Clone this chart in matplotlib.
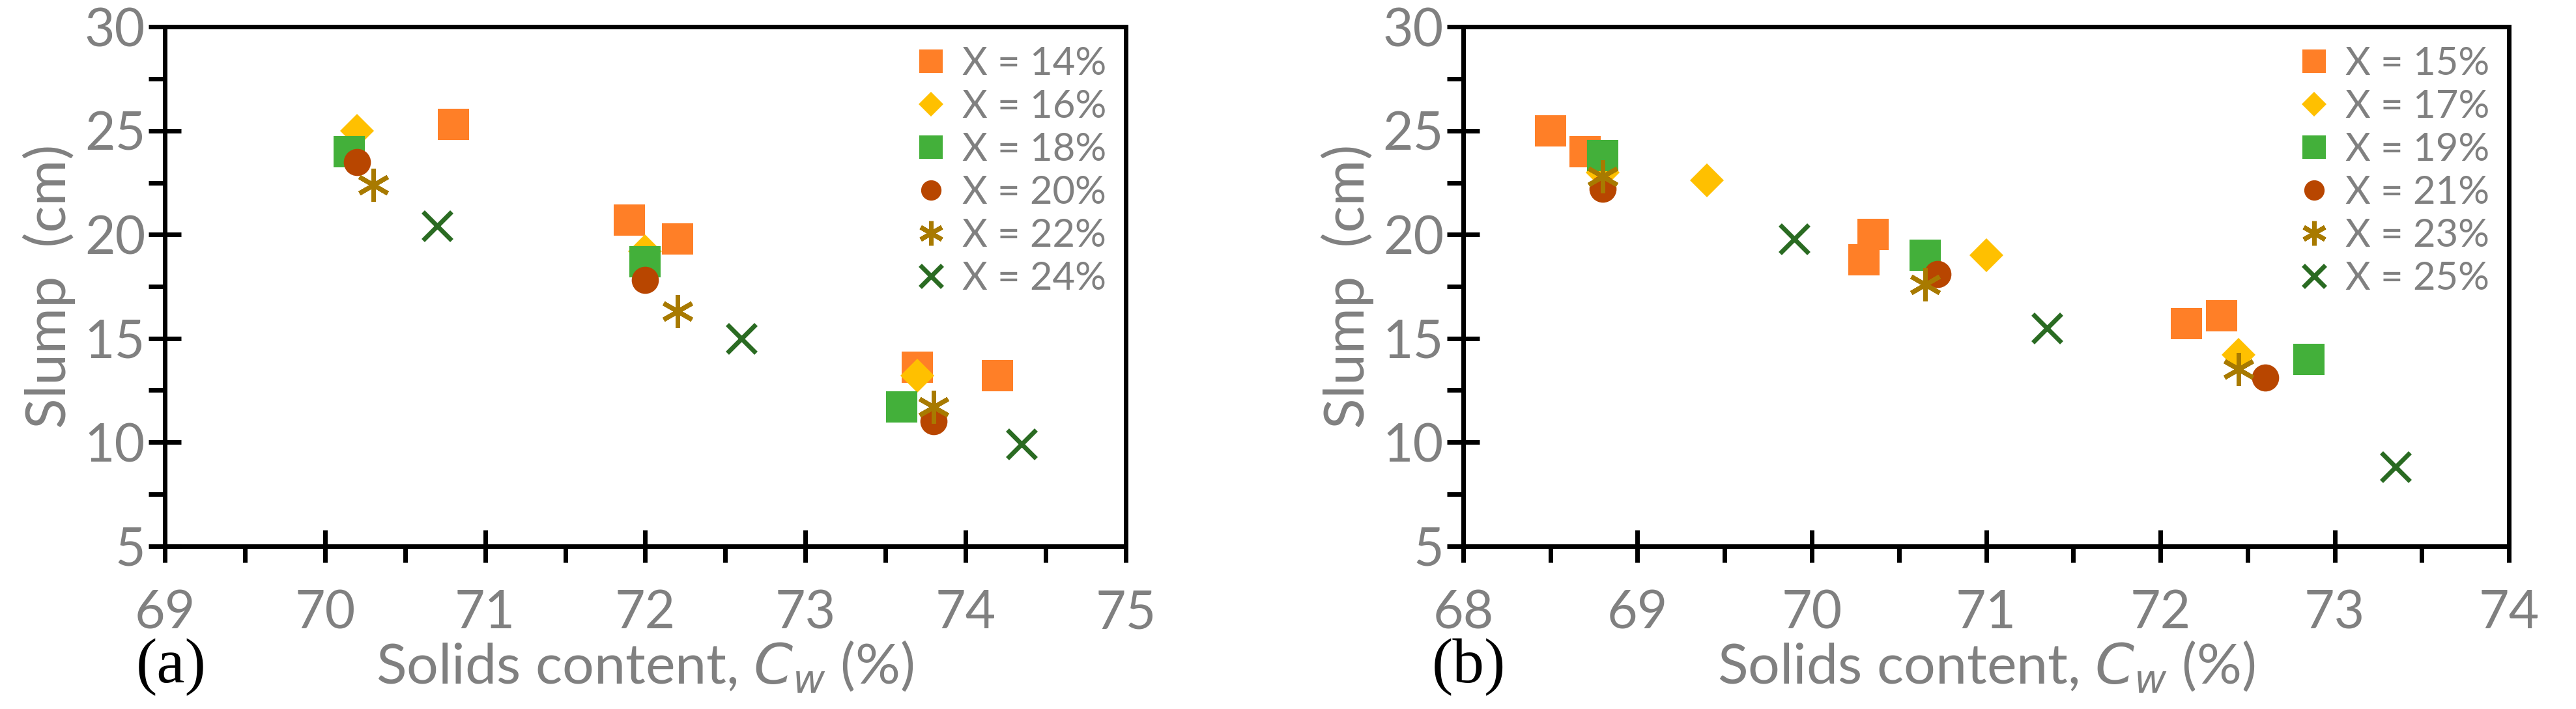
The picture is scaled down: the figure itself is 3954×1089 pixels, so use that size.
import matplotlib.pyplot as plt
from matplotlib.ticker import MultipleLocator

plt.rcParams['font.family'] = ['Lato', 'DejaVu Sans']

GRAY = '#808080'
colors = ['#FF7F27', '#FFC000', '#43B03A', '#B84600', '#A87A00', '#2A6B22']
markers = ['s', 'D', 's', 'o', (6, 2, 0), 'x']
sizes = [34, 26, 34, 30, 36, 32]

# panel (a)
labels_a = ['X = 14%', 'X = 16%', 'X = 18%', 'X = 20%', 'X = 22%', 'X = 24%']
x_a = [[70.8, 71.9, 72.2, 73.7, 74.2],
       [70.2, 72.0, 73.7],
       [70.15, 72.0, 73.6],
       [70.2, 72.0, 73.8],
       [70.3, 72.2, 73.8],
       [70.7, 72.6, 74.35]]
y_a = [[25.3, 20.7, 19.8, 13.6, 13.2],
       [25.0, 19.2, 13.2],
       [24.0, 18.7, 11.7],
       [23.5, 17.8, 11.0],
       [22.4, 16.3, 11.7],
       [20.4, 15.0, 9.9]]

# panel (b)
labels_b = ['X = 15%', 'X = 17%', 'X = 19%', 'X = 21%', 'X = 23%', 'X = 25%']
x_b = [[68.5, 68.7, 70.3, 70.35, 72.15, 72.35],
       [68.8, 69.4, 71.0, 72.45],
       [68.8, 70.65, 72.85],
       [68.8, 70.72, 72.6],
       [68.8, 70.65, 72.45],
       [69.9, 71.35, 73.35]]
y_b = [[25.0, 24.0, 18.8, 20.0, 15.7, 16.1],
       [23.0, 22.6, 19.0, 14.2],
       [23.8, 19.0, 14.0],
       [22.2, 18.1, 13.1],
       [22.8, 17.6, 13.5],
       [19.8, 15.5, 8.8]]

fig = plt.figure(figsize=(39.54, 10.89), dpi=100)
axa = fig.add_axes([0.064, 0.23, 0.373, 0.732])
axb = fig.add_axes([0.568, 0.23, 0.406, 0.732])


def draw(ax, xs, ys, labels, xlim, tag):
    for xv, yv, lab, c, m, s in zip(xs, ys, labels, colors, markers, sizes):
        ax.plot(xv, yv, ls='none', marker=m, color=c, markersize=s,
                markeredgewidth=5 if m in ('x', (6, 2, 0)) else 0, label=lab)
    ax.set_xlim(*xlim)
    ax.set_ylim(5, 30)
    ax.xaxis.set_major_locator(MultipleLocator(1))
    ax.xaxis.set_minor_locator(MultipleLocator(0.5))
    ax.yaxis.set_major_locator(MultipleLocator(5))
    ax.yaxis.set_minor_locator(MultipleLocator(2.5))
    for sp in ax.spines.values():
        sp.set_linewidth(5)
    ax.tick_params(which='major', direction='inout', length=36, width=5,
                   labelsize=58, labelcolor=GRAY)
    ax.tick_params(which='minor', direction='out', length=18, width=5)
    ax.tick_params(axis='x', which='major', pad=30)
    ax.set_xlabel('Solids content, $\\mathit{C_w}$ (%)', fontsize=62, color=GRAY, labelpad=2)
    ax.set_ylabel('Slump  (cm)', fontsize=62, color=GRAY, labelpad=10)
    ax.legend(loc='upper right', frameon=False, fontsize=43, labelcolor=GRAY,
              handletextpad=0.2, labelspacing=0.2, borderaxespad=0.1,
              handlelength=1.2, markerscale=0.75)
    ax.text(-0.03, -0.29, tag, transform=ax.transAxes, fontsize=70,
            family='Liberation Serif', ha='left', va='bottom')


draw(axa, x_a, y_a, labels_a, (69, 75), '(a)')
draw(axb, x_b, y_b, labels_b, (68, 74), '(b)')

fig.savefig('out.png', dpi=100)
